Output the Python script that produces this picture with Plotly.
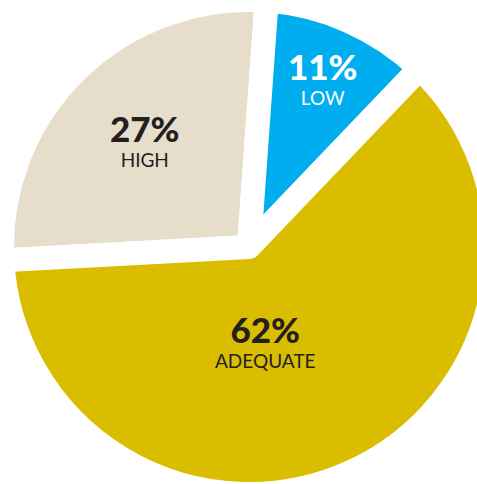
import plotly.graph_objects as go

# Share of respondents per level; slices run clockwise starting at the left edge
labels = ["HIGH", "LOW", "ADEQUATE"]
shares = [27, 11, 62]

slice_colors = ["#E6DECB", "#00AEEF", "#DBBD00"]
text_colors = ["#231F20", "#FFFFFF", "#231F20"]
# label centres in paper coordinates, one per slice
label_xy = [(0.2885, 0.7186), (0.6508, 0.8451), (0.5344, 0.3117)]
FONT = "Lato"


def label_html(value, label):
    return (
        f"<span style='font-size:35px;font-weight:900'>{value}%</span>"
        f"<br><span style='font-size:19px'>{label}</span>"
    )


fig = go.Figure(
    go.Pie(
        labels=labels,
        values=shares,
        textinfo="none",
        sort=False,
        direction="clockwise",
        rotation=-93.1,
        marker=dict(colors=slice_colors, line=dict(color="white", width=24)),
        hoverinfo="skip",
        showlegend=False,
    )
)

for (x, y), value, label, color in zip(label_xy, shares, labels, text_colors):
    fig.add_annotation(
        x=x, y=y, xref="paper", yref="paper",
        text=label_html(value, label),
        showarrow=False, xanchor="center", yanchor="middle",
        font=dict(family=FONT, size=19, color=color),
    )

fig.update_layout(
    width=496, height=494, autosize=False,
    margin=dict(l=2, r=0, t=0, b=0, pad=0),
    paper_bgcolor="white", plot_bgcolor="white",
)

fig.write_html(
    "out.html",
    post_script="document.documentElement.style.overflow='hidden';"
                "document.body.style.overflow='hidden';document.body.style.margin='0';",
)
